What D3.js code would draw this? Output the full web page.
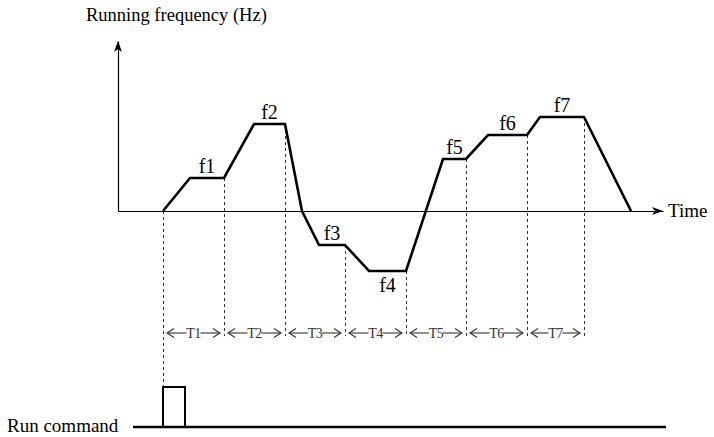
<!DOCTYPE html>
<html>
<head>
<meta charset="utf-8">
<script src="https://cdn.jsdelivr.net/npm/d3@7"></script>
<style>
  body { margin: 0; background: #fff; }
  svg { display: block; }
</style>
</head>
<body>
<svg id="chart" width="714" height="437"></svg>
<script>
// Multi-step speed profile: time and running frequency at each corner of the curve
// (negative frequency = reverse running).
const profileTime = [45, 72, 106, 136, 167, 184, 201, 227, 251, 288, 325, 348, 370, 409, 422, 466, 513];
const profileFreq = [0, 33, 33, 87, 87, 0, -34, -34, -60, -60, 52, 52, 76, 76, 94, 94, 0];

// Step boundaries: start of T1 ... end of T7
const stepTimes = [45, 106, 167, 227, 288, 348, 409, 466];
const stepLabels = ["T1", "T2", "T3", "T4", "T5", "T6", "T7"];

// Frequency of each step, and where its constant-speed plateau runs
const freqLabels = ["f1", "f2", "f3", "f4", "f5", "f6", "f7"];
const freqLevels = [33, 87, -34, -60, 52, 76, 94];
const plateauStart = [72, 136, 201, 251, 325, 370, 422];
const plateauEnd = [106, 167, 227, 288, 348, 409, 466];
const labelsBelow = ["f4"];

// Run command signal: pulse on/off times and the extent of the signal line
const runPulse = [45, 67];
const runSpan = [15, 548];

const axisTitleY = "Running frequency (Hz)";
const axisTitleX = "Time";
const runTitle = "Run command";

const SERIF = "'Liberation Serif', 'Times New Roman', 'DejaVu Serif', serif";

const svg = d3.select("#chart");

const x = d3.scaleLinear().domain([0, 545]).range([118, 663]);
const y = d3.scaleLinear().domain([0, 170]).range([211, 41]);
const yRun = d3.scaleLinear().domain([0, 1]).range([427, 387]);
const labelRowY = 333;

// ---- axes (domain lines only) with arrow heads ----
svg.append("g")
  .attr("transform", `translate(0,${y(0)})`)
  .call(d3.axisBottom(x).tickValues([]).tickSizeOuter(0))
  .call(g => g.select(".domain").attr("stroke", "#000").attr("stroke-width", 1.2));

svg.append("g")
  .attr("transform", `translate(${x(0)},0)`)
  .call(d3.axisLeft(y).tickValues([]).tickSizeOuter(0))
  .call(g => g.select(".domain").attr("stroke", "#000").attr("stroke-width", 1.2));

const xTip = x.range()[1], yTip = y.range()[1];
svg.append("path")
  .attr("d", `M${xTip},${y(0)} L${xTip - 11},${y(0) - 4} L${xTip - 8},${y(0)} L${xTip - 11},${y(0) + 4} Z`)
  .attr("fill", "#000");
svg.append("path")
  .attr("d", `M${x(0)},${yTip} L${x(0) - 4},${yTip + 11} L${x(0)},${yTip + 8} L${x(0) + 4},${yTip + 11} Z`)
  .attr("fill", "#000");

const addText = (sel, size) => sel
  .style("font-family", SERIF)
  .style("font-size", size + "px")
  .attr("fill", "#000");

addText(svg.append("text").attr("x", 86).attr("y", 21).text(axisTitleY), 18.5);
addText(svg.append("text").attr("x", xTip + 5).attr("y", y(0) + 6).text(axisTitleX), 19);

// ---- dashed step markers ----
const levelAtStep = t => {
  const i = plateauEnd.indexOf(t);
  return i >= 0 ? freqLevels[i] : 0;
};
svg.append("g")
  .selectAll("line")
  .data(stepTimes)
  .join("line")
  .attr("x1", d => Math.round(x(d)) + 0.5)
  .attr("x2", d => Math.round(x(d)) + 0.5)
  .attr("y1", d => y(levelAtStep(d)))
  .attr("y2", (d, i) => i === 0 ? yRun(1) : labelRowY + 3)
  .attr("stroke", "#333")
  .attr("stroke-width", 1)
  .attr("stroke-dasharray", "3,3");

// ---- frequency profile ----
const line = d3.line()
  .x((d, i) => x(profileTime[i]))
  .y((d, i) => y(profileFreq[i]));
svg.append("path")
  .attr("d", line(profileFreq))
  .attr("fill", "none")
  .attr("stroke", "#000")
  .attr("stroke-width", 2.6)
  .attr("stroke-linejoin", "miter");

svg.append("g")
  .selectAll("text")
  .data(freqLabels)
  .join("text")
  .attr("x", (d, i) => (x(plateauStart[i]) + x(plateauEnd[i])) / 2)
  .attr("y", (d, i) => labelsBelow.includes(d) ? y(freqLevels[i]) + 21 : y(freqLevels[i]) - 5)
  .attr("text-anchor", "middle")
  .call(addText, 20)
  .text(d => d);

// ---- step duration labels  <—Tn—> ----
const steps = stepLabels.map((lab, i) => ({ lab, a: x(stepTimes[i]), b: x(stepTimes[i + 1]) }));
const sg = svg.append("g").attr("stroke", "#333").attr("fill", "none").attr("stroke-width", 1.1);
steps.forEach(s => {
  const mid = (s.a + s.b) / 2;
  const half = 7;
  const l = s.a + 4, r = s.b - 4;
  sg.append("path").attr("d", `M${l + 7},${labelRowY - 4.5} L${l},${labelRowY} L${l + 7},${labelRowY + 4.5}`);
  sg.append("path").attr("d", `M${r - 7},${labelRowY - 4.5} L${r},${labelRowY} L${r - 7},${labelRowY + 4.5}`);
  sg.append("line").attr("x1", l).attr("x2", mid - half).attr("y1", labelRowY).attr("y2", labelRowY);
  sg.append("line").attr("x1", mid + half).attr("x2", r).attr("y1", labelRowY).attr("y2", labelRowY);
});
svg.append("g")
  .selectAll("text")
  .data(steps)
  .join("text")
  .attr("x", d => (d.a + d.b) / 2)
  .attr("y", labelRowY + 5)
  .attr("text-anchor", "middle")
  .call(addText, 14)
  .attr("fill", "#333")
  .style("letter-spacing", "-0.5px")
  .text(d => d.lab);

// ---- run command signal ----
const runPath = d3.line()
  .x(d => x(d[0]))
  .y(d => yRun(d[1]));
svg.append("path")
  .attr("d", runPath([[runSpan[0], 0], [runSpan[1], 0]]))
  .attr("stroke", "#000").attr("stroke-width", 2.6).attr("fill", "none");
svg.append("path")
  .attr("d", runPath([[runPulse[0], 0], [runPulse[0], 1], [runPulse[1], 1], [runPulse[1], 0]]))
  .attr("stroke", "#000").attr("stroke-width", 2).attr("fill", "none");

addText(svg.append("text").attr("x", 7).attr("y", yRun(0) + 5).text(runTitle), 19);
</script>
</body>
</html>
